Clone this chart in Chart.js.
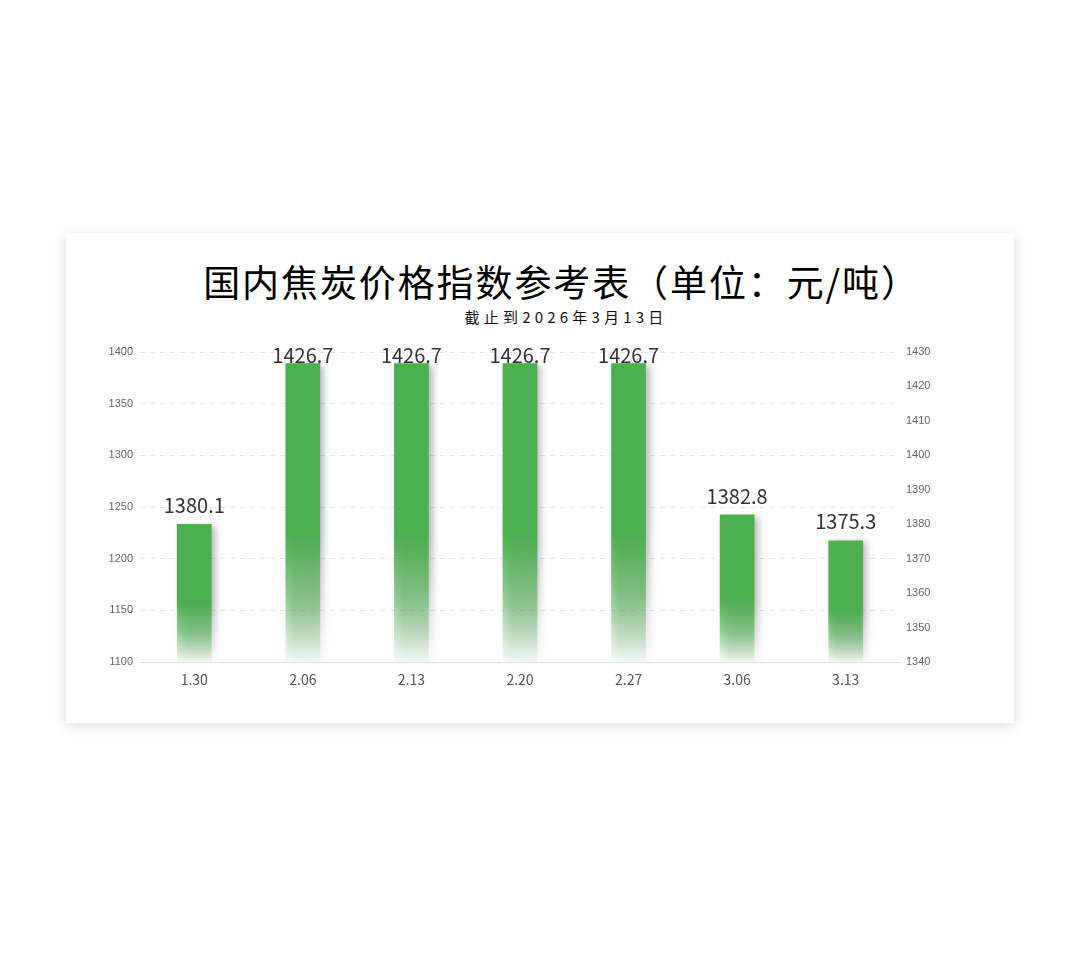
<!DOCTYPE html>
<html lang="zh">
  <head>
    <meta charset="UTF-8" />
    <meta name="viewport" content="width=device-width, initial-scale=1.0" />
    <script src="https://cdn.jsdelivr.net/npm/chart.js@4/dist/chart.umd.min.js"></script>
    <title>国内焦炭价格指数参考表</title>
    <style>
      html, body { margin: 0; padding: 0; background: #fff; }
      body { width: 1080px; height: 957px; position: relative; overflow: hidden; }
      .card {
        position: absolute; left: 66px; top: 233px; width: 948px; height: 490px;
        background: #fff; box-shadow: 0 3px 12px rgba(0, 0, 0, 0.13);
      }
      .title {
        position: absolute; left: 43px; right: 0; top: 30px; text-align: center;
        font-family: "Noto Sans CJK SC", sans-serif; font-size: 37px; letter-spacing: 1.9px;
        color: #000; line-height: 1;
      }
      .subtitle {
        position: absolute; left: 52px; right: 0; top: 76px; text-align: center;
        font-family: "Noto Sans CJK SC", sans-serif; font-size: 15px; letter-spacing: 4.2px;
        color: #111; line-height: 1;
      }
      #myChart { position: absolute; left: 0; top: 0; }
    </style>
  </head>
  <body>
    <div class="card">
      <div class="title">国内焦炭价格指数参考表（单位：元/吨）</div>
      <div class="subtitle">截止到2026年3月13日</div>
      <canvas id="myChart" width="948" height="490"></canvas>
    </div>
  </body>
  <script>
    var dates = ["1.30", "2.06", "2.13", "2.20", "2.27", "3.06", "3.13"];
    var prices = [1380.1, 1426.7, 1426.7, 1426.7, 1426.7, 1382.8, 1375.3];
    var leftTicks = [1100, 1400, 50];   // min, max, step
    var rightTicks = [1340, 1430, 10];

    var green = "76, 175, 80";

    function barFill(ctx) {
      var chart = ctx.chart;
      var area = chart.chartArea;
      if (!area || ctx.type !== "data") return "rgb(" + green + ")";
      var top = chart.scales.y1.getPixelForValue(ctx.raw);
      var g = chart.ctx.createLinearGradient(0, top, 0, area.bottom);
      g.addColorStop(0, "rgba(" + green + ", 1)");
      g.addColorStop(0.57, "rgba(" + green + ", 1)");
      g.addColorStop(0.8, "rgba(" + green + ", 0.55)");
      g.addColorStop(1, "rgba(" + green + ", 0.04)");
      return g;
    }

    // bar shadow + value labels
    var barExtras = {
      id: "barExtras",
      beforeDatasetDraw(chart) {
        var c = chart.ctx;
        c.save();
        c.shadowColor = "rgba(0, 0, 0, 0.28)";
        c.shadowBlur = 7;
        c.shadowOffsetX = 4;
        c.shadowOffsetY = 2;
      },
      afterDatasetDraw(chart) {
        chart.ctx.restore();
      },
      afterDatasetsDraw(chart) {
        var c = chart.ctx;
        var meta = chart.getDatasetMeta(0);
        c.save();
        c.font = "20px 'Noto Sans CJK SC', sans-serif";
        c.fillStyle = "#333";
        c.textAlign = "center";
        c.textBaseline = "alphabetic";
        meta.data.forEach(function (bar, i) {
          var y = Math.max(bar.y - 11, chart.chartArea.top + 11);
          c.fillText(prices[i].toFixed(1), bar.x, y);
        });
        c.restore();
      },
    };

    var plain = function (v) { return String(v); };

    new Chart("myChart", {
      type: "bar",
      data: {
        labels: dates,
        datasets: [
          {
            label: "焦炭价格指数",
            data: prices,
            yAxisID: "y1",
            backgroundColor: barFill,
            barPercentage: 0.32,
            categoryPercentage: 1,
          },
        ],
      },
      options: {
        responsive: false,
        animation: false,
        devicePixelRatio: 1,
        layout: { padding: { top: 119, left: 0, right: 0, bottom: 0 } },
        plugins: { legend: { display: false }, tooltip: { enabled: false } },
        scales: {
          x: {
            grid: { display: false, drawTicks: false },
            border: { color: "#ddd", width: 1 },
            ticks: { color: "#555", font: { size: 14, family: "'Noto Sans CJK SC', sans-serif" }, padding: 9 },
            afterFit(s) { s.height = 61; },
          },
          y: {
            position: "left",
            min: leftTicks[0],
            max: leftTicks[1],
            ticks: { stepSize: leftTicks[2], callback: plain, color: "#666", font: { size: 11, family: "'Liberation Sans', Arial" }, padding: 7 },
            grid: { color: "#e6e6e6", drawTicks: false },
            border: { display: false, dash: [5, 5] },
            afterFit(s) { s.width = 74; },
          },
          y1: {
            position: "right",
            min: rightTicks[0],
            max: rightTicks[1],
            ticks: { stepSize: rightTicks[2], callback: plain, color: "#666", font: { size: 11, family: "'Liberation Sans', Arial" }, padding: 6 },
            grid: { display: false, drawTicks: false },
            border: { display: false },
            afterFit(s) { s.width = 114; },
          },
        },
      },
      plugins: [barExtras],
    });
  </script>
</html>
